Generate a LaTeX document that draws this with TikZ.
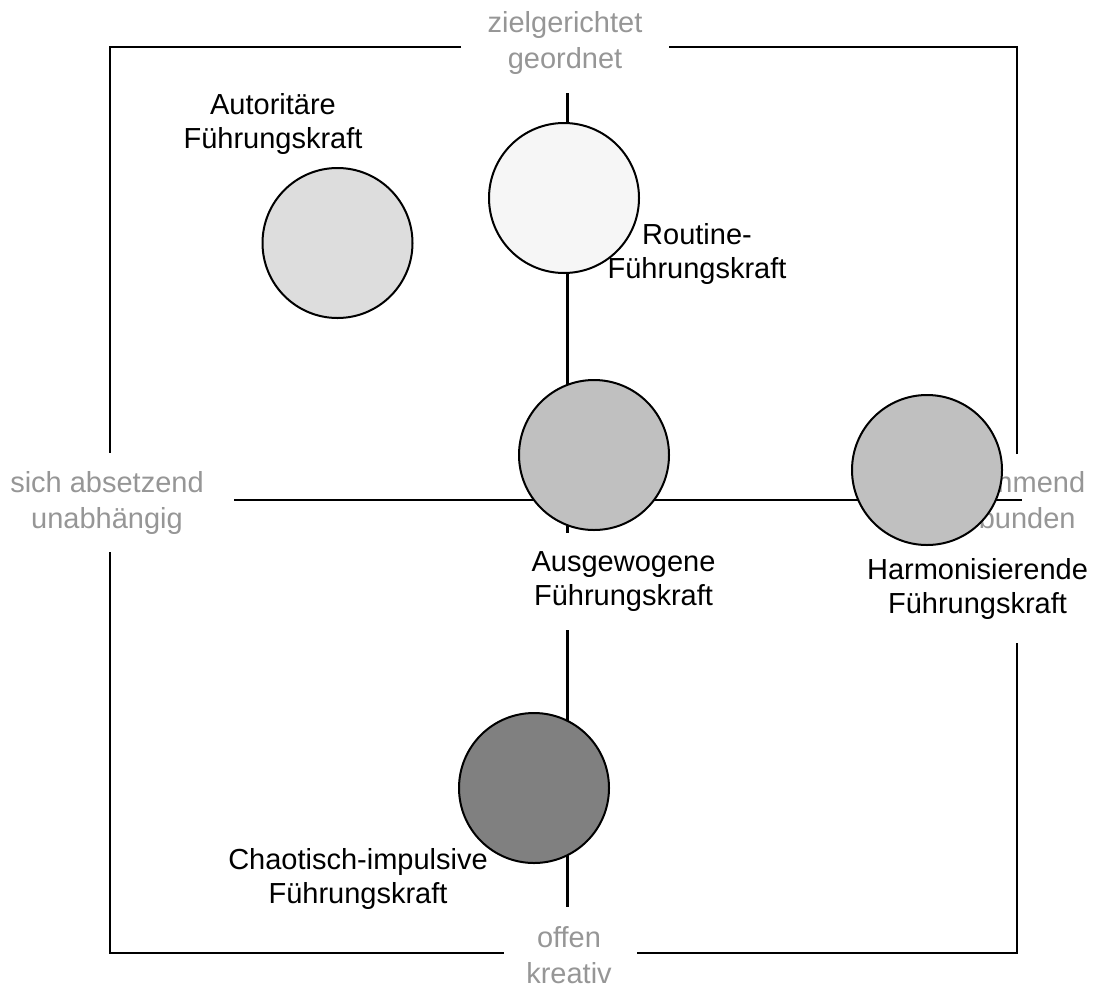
\documentclass[tikz,border=0pt]{standalone}
\usepackage{fontspec}
\setmainfont{Liberation Sans}
\definecolor{polegray}{HTML}{969696}
\begin{document}
\begin{tikzpicture}[x=1pt,y=-1pt,
  frameline/.style={line width=2.1pt, line join=miter},
  axisline/.style={line width=2.1pt},
  person/.style={circle, draw, line width=2pt, minimum size=150pt, inner sep=0pt},
  rolelabel/.style={align=center, anchor=base, inner sep=0pt, font=\fontsize{29}{33.5}\selectfont},
  polelabel/.style={align=center, anchor=base, inner sep=0pt, text=polegray, font=\fontsize{29}{36}\selectfont}]
\useasboundingbox (0,0) rectangle (1097,983);

% outer frame, open where the pole labels sit
\coordinate (tl) at (110,47);
\coordinate (tr) at (1017,47);
\coordinate (bl) at (110,953);
\coordinate (br) at (1017,953);
\draw[frameline] (461,47) -- (tl) -- (110,453);
\draw[frameline] (110,552) -- (bl) -- (504,953);
\draw[frameline] (637,953) -- (br) -- (1017,643);
\draw[frameline] (1017,454) -- (tr) -- (669,47);

% pole labels (anchored at the baseline of the last line)
\node[polelabel] (north) at (565,68) {zielgerichtet\\geordnet};
\node[polelabel] (west)  at (107,528) {sich absetzend\\unabhängig};
\node[polelabel] (east)  at (1007,528) {zustimmend\\verbunden};
\node[polelabel] (south) at (569,983) {offen\\kreativ};

% axes
\coordinate (vtop) at (567.5,93);
\coordinate (vbot) at (567.5,907);
\coordinate (hleft) at (234,500);
\coordinate (hright) at (1022,500);
\draw[axisline] (vtop) -- (vbot);
\draw[axisline] (hleft) -- (hright);

% leadership types
\node[person, fill={rgb,255:red,221;green,221;blue,221}] (auto) at (337.5,243) {};
\node[person, fill={rgb,255:red,246;green,246;blue,246}] (rout) at (564,198) {};
\node[person, fill={rgb,255:red,192;green,192;blue,192}] (ausg) at (594,455) {};
\node[person, fill={rgb,255:red,192;green,192;blue,192}] (harm) at (927,470) {};
\node[person, fill={rgb,255:red,128;green,128;blue,128}] (chao) at (534,788) {};

\node[rolelabel] (autoL) at (273,148) {Autoritäre\\Führungskraft};
\node[rolelabel] (routL) at (697,278) {Routine-\\Führungskraft};
\node[rolelabel, fill=white, inner ysep=19pt] (ausgL) at (623.5,605) {Ausgewogene\\Führungskraft};
\node[rolelabel] (harmL) at (977.5,613) {Harmonisierende\\Führungskraft};
\node[rolelabel] (chaoL) at (358,903) {Chaotisch-impulsive\\Führungskraft};
\end{tikzpicture}
\end{document}
